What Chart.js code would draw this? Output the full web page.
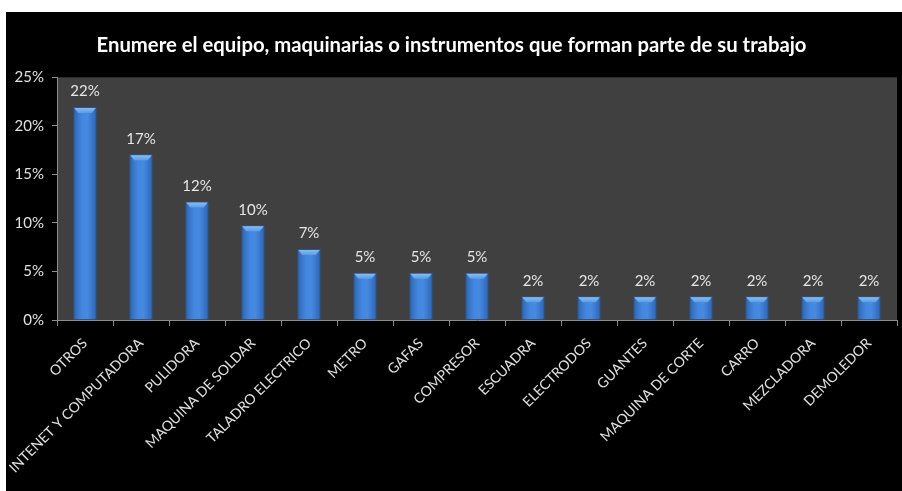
<!DOCTYPE html>
<html>
<head>
<meta charset="utf-8">
<script src="https://cdn.jsdelivr.net/npm/chart.js@4/dist/chart.umd.min.js"></script>
<style>
  html, body { margin: 0; padding: 0; background: #fff; }
  #wrap { position: absolute; left: 6px; top: 12px; width: 896px; height: 479px; background: #000; }
</style>
</head>
<body>
<div id="wrap"><canvas id="chart-equipo"></canvas></div>
<script>
// Respuestas (porcentaje sobre el total)
const categorias = ['OTROS', 'INTENET Y COMPUTADORA', 'PULIDORA', 'MAQUINA DE SOLDAR', 'TALADRO ELECTRICO',
    'METRO', 'GAFAS', 'COMPRESOR', 'ESCUADRA', 'ELECTRODOS', 'GUANTES', 'MAQUINA DE CORTE',
    'CARRO', 'MEZCLADORA', 'DEMOLEDOR'];
const porcentajes = [21.95, 17.07, 12.20, 9.76, 7.32, 4.88, 4.88, 4.88, 2.44, 2.44, 2.44, 2.44, 2.44, 2.44, 2.44];
const ticksY = [0, 5, 10, 15, 20, 25];

const FONT = 'Lato, "Open Sans", sans-serif';
const BAR_PCT = 0.42;

// degradado horizontal tipo cilindro para cada barra
function colorBarra(ctx) {
    const chart = ctx.chart;
    if (!chart.chartArea || !chart.scales.x) return '#3a78d0';
    const xs = chart.scales.x;
    const cx = xs.getPixelForValue(ctx.dataIndex);
    const w = xs.width / categorias.length * BAR_PCT;
    const g = chart.ctx.createLinearGradient(cx - w / 2, 0, cx + w / 2, 0);
    g.addColorStop(0, '#2d62ae');
    g.addColorStop(0.35, '#4386de');
    g.addColorStop(0.6, '#468ae2');
    g.addColorStop(1, '#2e63b0');
    return g;
}

const fondoPlugin = {
    id: 'fondo',
    beforeDraw(chart) {
        const { ctx, chartArea: a } = chart;
        ctx.save();
        ctx.fillStyle = '#000';
        ctx.fillRect(0, 0, chart.width, chart.height);
        ctx.fillStyle = '#404040';
        ctx.fillRect(a.left, a.top, a.right - a.left, a.bottom - a.top);
        ctx.restore();
    }
};

// bisel claro arriba de cada barra + etiqueta con el valor
const etiquetasPlugin = {
    id: 'etiquetas',
    afterDatasetsDraw(chart) {
        const ctx = chart.ctx;
        const meta = chart.getDatasetMeta(0);
        ctx.save();
        meta.data.forEach((bar, i) => {
            const { x, y, width } = bar.getProps(['x', 'y', 'width'], true);
            const l = x - width / 2, r = x + width / 2;
            const g = ctx.createLinearGradient(0, y, 0, y + 6);
            g.addColorStop(0, '#8cc4f7');
            g.addColorStop(1, '#5a9ce6');
            ctx.fillStyle = g;
            ctx.beginPath();
            ctx.moveTo(l + 1, y + 1);
            ctx.lineTo(r - 1, y + 1);
            ctx.lineTo(r - 5, y + 6);
            ctx.lineTo(l + 5, y + 6);
            ctx.closePath();
            ctx.fill();

            ctx.fillStyle = '#e6e6e6';
            ctx.font = '15px ' + FONT;
            ctx.textAlign = 'center';
            ctx.textBaseline = 'bottom';
            ctx.fillText(Math.round(porcentajes[i]) + '%', x, y - 8);
        });
        ctx.restore();
    }
};

new Chart(document.getElementById('chart-equipo'), {
    type: 'bar',
    data: {
        labels: categorias,
        datasets: [{
            data: porcentajes,
            backgroundColor: colorBarra,
            borderColor: '#27559a',
            borderWidth: 1,
            borderSkipped: 'bottom',
            categoryPercentage: 1,
            barPercentage: BAR_PCT
        }]
    },
    options: {
        responsive: true,
        maintainAspectRatio: false,
        animation: false,
        layout: { padding: { left: 0, right: 5, top: 0, bottom: 0 } },
        plugins: {
            legend: { display: false },
            tooltip: { enabled: false },
            title: {
                display: true,
                text: 'Enumere el equipo, maquinarias o instrumentos que forman parte de su trabajo',
                color: '#ffffff',
                font: { family: FONT, size: 20.3, weight: 'bold', lineHeight: 1.2 },
                padding: { top: 21, bottom: 20 }
            }
        },
        scales: {
            x: {
                afterFit(s) { s.height = 171; },
                border: { color: '#8c8c8c', width: 1 },
                grid: { display: true, drawOnChartArea: false, drawTicks: true, tickLength: 6, color: '#8c8c8c', offset: true },
                ticks: {
                    color: '#e0e0e0',
                    font: { family: FONT, size: 14 },
                    minRotation: 45,
                    maxRotation: 45,
                    autoSkip: false,
                    padding: 9
                }
            },
            y: {
                min: 0,
                max: 25,
                afterFit(s) { s.width = 51; },
                afterBuildTicks(s) { s.ticks = ticksY.map(v => ({ value: v })); },
                border: { color: '#8c8c8c', width: 1 },
                grid: { drawOnChartArea: false, drawTicks: true, tickLength: 5, color: '#8c8c8c' },
                ticks: {
                    color: '#e0e0e0',
                    font: { family: FONT, size: 15 },
                    padding: 8,
                    callback: v => v + '%'
                }
            }
        }
    },
    plugins: [fondoPlugin, etiquetasPlugin]
});
</script>
</body>
</html>
